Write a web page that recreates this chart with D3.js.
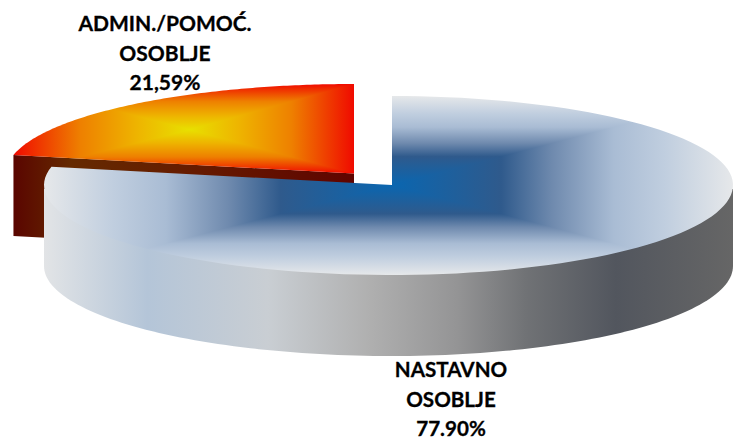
<!DOCTYPE html>
<html>
<head>
<meta charset="utf-8">
<script src="https://cdn.jsdelivr.net/npm/d3@7"></script>
<style>
  html, body { margin: 0; padding: 0; background: #fff; overflow: hidden; }
  text { font-family: Lato, sans-serif; font-weight: 700; fill: #000; stroke: #000; stroke-width: 0.3; text-anchor: middle; }
</style>
</head>
<body>
<svg id="chart"></svg>
<script>
const categories = ["NASTAVNO OSOBLJE", "ADMIN./POMOĆ. OSOBLJE"];
const values = [77.9, 21.59];
const labelLines = [
  ["NASTAVNO", "OSOBLJE", "77.90%"],
  ["ADMIN./POMOĆ.", "OSOBLJE", "21,59%"],
];

const w = 733;
const h = 439;
const depth = 81;

const svg = d3.select("#chart").attr("width", w).attr("height", h);
const defs = svg.append("defs");

// pie is squashed and a bit uneven, so piecewise scales instead of a plain ellipse
const xMain = d3.scaleLinear().domain([-1, 0, 1]).range([44, 392, 733]);
const yMain = d3.scaleLinear().domain([-1, 0, 1]).range([96, 185, 275]);
const xAdmin = d3.scaleLinear().domain([-1, 0]).range([6, 354]);
const yAdmin = d3.scaleLinear().domain([-1, 0, 1]).range([84, 173.5, 263]);

const arcs = d3.pie().sort(null)(values);

const line = d3.line();

function rim(x, y, a0, a1, dy) {
  const n = 120;
  return d3.range(n + 1).map((i) => {
    const a = a0 + ((a1 - a0) * i) / n;
    return [x(Math.sin(a)), y(-Math.cos(a)) + dy];
  });
}

function slicePath(x, y, a0, a1) {
  return line([[x(0), y(0)], ...rim(x, y, a0, a1, 0)]) + "Z";
}

function hGradient(id, x0, x1, stops) {
  const g = defs
    .append("linearGradient")
    .attr("id", id)
    .attr("gradientUnits", "userSpaceOnUse")
    .attr("x1", x0)
    .attr("x2", x1)
    .attr("y1", 0)
    .attr("y2", 0);
  stops.forEach((s) => {
    g.append("stop").attr("offset", s[0]).attr("stop-color", s[1]);
  });
}

// office style "rectangular" gradient: four triangles meeting at the centre
function boxGradient(id, d, box, cx, cy, stops) {
  defs.append("clipPath").attr("id", id + "Clip").append("path").attr("d", d);
  const g = svg.append("g").attr("clip-path", `url(#${id}Clip)`);
  const sides = [
    { to: [cx, box.y0], pts: [[box.x0, box.y0], [box.x1, box.y0]] },
    { to: [box.x1, cy], pts: [[box.x1, box.y0], [box.x1, box.y1]] },
    { to: [cx, box.y1], pts: [[box.x1, box.y1], [box.x0, box.y1]] },
    { to: [box.x0, cy], pts: [[box.x0, box.y1], [box.x0, box.y0]] },
  ];
  sides.forEach((s, i) => {
    const lg = defs
      .append("linearGradient")
      .attr("id", id + i)
      .attr("gradientUnits", "userSpaceOnUse")
      .attr("x1", cx)
      .attr("y1", cy)
      .attr("x2", s.to[0])
      .attr("y2", s.to[1]);
    stops.forEach((st) => {
      lg.append("stop").attr("offset", st[0]).attr("stop-color", st[1]);
    });
    g.append("path")
      .attr("d", line([[cx, cy], ...s.pts]) + "Z")
      .attr("fill", `url(#${id}${i})`)
      .attr("shape-rendering", "crispEdges");
  });
}

const blue = arcs[0];
const admin = arcs[1];

// admin wall: the cut face towards the viewer
const corner = [
  xAdmin(Math.sin(admin.startAngle)),
  yAdmin(-Math.cos(admin.startAngle)),
];
const hub = [xAdmin(0), yAdmin(0)];
hGradient("adminWall", corner[0], hub[0], [
  [0, "#5a0500"],
  [0.17, "#652a00"],
  [0.5, "#661c00"],
  [1, "#5f0400"],
]);
svg
  .append("path")
  .attr(
    "d",
    line([
      corner,
      hub,
      [hub[0], hub[1] + depth],
      [corner[0], corner[1] + depth],
    ]) + "Z"
  )
  .attr("fill", "url(#adminWall)");

boxGradient(
  "adminTop",
  slicePath(xAdmin, yAdmin, admin.startAngle, admin.endAngle),
  { x0: corner[0], x1: hub[0], y0: yAdmin(-1), y1: hub[1] },
  (corner[0] + hub[0]) / 2 + 6,
  (yAdmin(-1) + hub[1]) / 2 + 1,
  [
    [0, "#e8e000"],
    [0.3, "#eeb400"],
    [0.62, "#ee8000"],
    [1, "#f00a00"],
  ]
);

// main wall, runs up under the top face so no seam shows along the rim
const frontA0 = Math.PI / 2;
const frontA1 = (Math.PI * 3) / 2;
hGradient("mainWall", xMain(-1), xMain(1), [
  [0, "#e2e4e6"],
  [0.15, "#b4c5d8"],
  [0.325, "#c9ced3"],
  [0.47, "#b0b0b0"],
  [0.6, "#949495"],
  [0.7, "#707275"],
  [0.83, "#52565e"],
  [1, "#666666"],
]);
const wallBottom = rim(xMain, yMain, frontA1, frontA0, depth);
svg
  .append("path")
  .attr(
    "d",
    line([
      [xMain(-1), yMain(0) + 4],
      ...wallBottom,
      [xMain(1), yMain(0) + 4],
    ]) + "Z"
  )
  .attr("fill", "url(#mainWall)");

boxGradient(
  "mainTop",
  slicePath(xMain, yMain, blue.startAngle, blue.endAngle),
  { x0: xMain(-1), x1: xMain(1), y0: yMain(-1), y1: yMain(1) },
  xMain(0),
  yMain(0),
  [
    [0, "#0a66b0"],
    [0.32, "#2f5a8c"],
    [0.47, "#6f8aae"],
    [0.65, "#a9bcd4"],
    [0.8, "#c0cedf"],
    [1, "#e6e8ea"],
  ]
);

const labelX = [451, 165];
const labelY = d3.scaleLinear().domain([0, 1]).range([0, 29.5]);
const labelBase = [377, 31];
const labelSize = [20.6, 21];

categories.forEach((c, i) => {
  svg
    .append("g")
    .attr("class", "label")
    .attr("data-category", c)
    .selectAll("text")
    .data(labelLines[i])
    .enter()
    .append("text")
    .attr("x", labelX[i])
    .attr("y", (d, j) => labelBase[i] + labelY(j))
    .attr("font-size", labelSize[i])
    .text((d) => d);
});
</script>
</body>
</html>
